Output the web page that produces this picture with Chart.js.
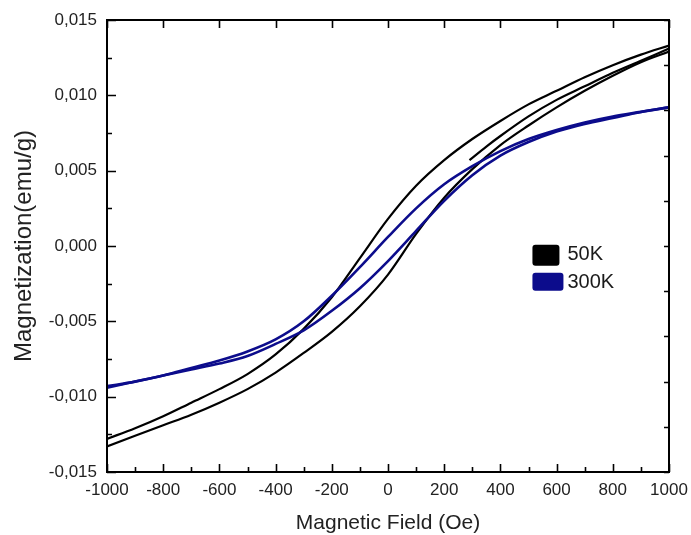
<!DOCTYPE html>
<html>
<head>
<meta charset="utf-8">
<script src="https://cdn.jsdelivr.net/npm/chart.js@4.4.1/dist/chart.umd.min.js"></script>
<style>
  html, body { margin: 0; padding: 0; background: #fff; }
  canvas { display: block; }
</style>
</head>
<body>
<canvas id="hyst" width="691" height="535"></canvas>
<script>
// ─── M(H) hysteresis, 50K and 300K ──────────────────────────────────────────
const FONT = "'Liberation Sans', Arial, sans-serif";

// field grid (Oe) shared by the full branches
const fieldGrid = [-1000,-900,-800,-700,-600,-500,-400,-300,-200,-100,0,100,200,300,400,500,600,700,800,900,1000];

// 50K loop (emu/g)
const m50Upper = [-0.0128,-0.0121,-0.0113,-0.0104,-0.0095,-0.0085,-0.0072,-0.0055,-0.0034,-0.0008,0.0018,0.0040,0.0057,0.0071,0.0083,0.0094,0.0103,0.0112,0.0120,0.0127,0.0133];
const m50Lower = [-0.0133,-0.0126,-0.0119,-0.0112,-0.0104,-0.0095,-0.0084,-0.0071,-0.0057,-0.0040,-0.0019,0.0008,0.0032,0.0051,0.0067,0.0080,0.0092,0.0103,0.0113,0.0122,0.0129];
// initial magnetisation piece of the 50K run
const virginField = [290,350,400,500,600,700,800,900,1000];
const m50Virgin   = [0.0057,0.0066,0.0073,0.0086,0.0097,0.0106,0.0115,0.0123,0.0131];

// 300K loop (emu/g)
const m300Upper = [-0.0093,-0.0090,-0.0086,-0.0081,-0.0076,-0.0070,-0.0062,-0.0050,-0.0033,-0.0014,0.0006,0.0025,0.0041,0.0053,0.0063,0.0071,0.0077,0.0082,0.0086,0.0089,0.0092];
const m300Lower = [-0.0094,-0.0090,-0.0086,-0.0082,-0.0078,-0.0073,-0.0065,-0.0056,-0.0043,-0.0028,-0.0010,0.0010,0.0030,0.0047,0.0060,0.0069,0.0076,0.0081,0.0085,0.0089,0.0092];

const seriesNames = ['50K', '300K'];
const seriesColors = ['#000000', '#0c0c8c'];

const xTicksMajor = 200, xTicksMinor = 100;
const yTicksMajor = 0.005, yTicksMinor = 0.0025;

const pts = (xs, ys) => xs.map((x, i) => ({ x, y: ys[i] }));
const fmtY = v => (Math.abs(v) < 1e-9 ? 0 : v).toFixed(3).replace('.', ',');

function branch(label, data, color, width) {
  return {
    label, data,
    borderColor: color, backgroundColor: color,
    borderWidth: width, pointRadius: 0,
    showLine: true, fill: false,
    cubicInterpolationMode: 'monotone'
  };
}

// frame, inward ticks on all four sides and the in-plot legend
const framePlugin = {
  id: 'frame',
  afterDraw(chart) {
    const { ctx, chartArea: a, scales } = chart;
    const x = scales.x, y = scales.y, y2 = scales.y2;
    ctx.save();
    ctx.strokeStyle = '#000';
    ctx.lineWidth = 2;
    ctx.strokeRect(a.left, a.top, a.right - a.left, a.bottom - a.top);

    ctx.lineWidth = 1.6;
    ctx.beginPath();
    for (let v = x.min; v <= x.max + 1e-6; v += xTicksMinor) {
      const px = Math.round(x.getPixelForValue(v)) + 0.5;
      const major = Math.abs(v % xTicksMajor) < 1e-6;
      ctx.moveTo(px, a.bottom); ctx.lineTo(px, a.bottom - (major ? 8 : 5));
      if (major) { ctx.moveTo(px, a.top); ctx.lineTo(px, a.top + 8); }
    }
    for (let k = 0; k <= 12; k++) {
      const v = y.min + k * yTicksMinor;
      const py = Math.round(y.getPixelForValue(v)) + 0.5;
      const len = k % 2 === 0 ? 9 : 5;
      ctx.moveTo(a.left, py); ctx.lineTo(a.left + len, py);
    }
    for (let v = y2.min; v <= y2.max; v++) {
      const py = Math.round(y2.getPixelForValue(v)) + 0.5;
      ctx.moveTo(a.right, py); ctx.lineTo(a.right - 5, py);
    }
    ctx.stroke();

    // legend
    const lx = a.left + (a.right - a.left) * 0.757;
    const ly = a.top + (a.bottom - a.top) * 0.497;
    ctx.font = '20px ' + FONT;
    ctx.textBaseline = 'middle';
    seriesNames.forEach((name, i) => {
      const top = ly + i * 28;
      ctx.fillStyle = seriesColors[i];
      ctx.beginPath();
      ctx.roundRect(lx, top, i ? 31 : 27, i ? 18 : 21, 3);
      ctx.fill();
      ctx.fillStyle = '#1a1a1a';
      ctx.fillText(name, lx + 35, top + 10);
    });
    ctx.restore();
  }
};

new Chart(document.getElementById('hyst'), {
  type: 'scatter',
  data: {
    datasets: [
      branch('300K', pts(fieldGrid, m300Upper), seriesColors[1], 2.6),
      branch('300K', pts(fieldGrid, m300Lower), seriesColors[1], 2.6),
      branch('50K', pts(fieldGrid, m50Upper), seriesColors[0], 2.2),
      branch('50K', pts(fieldGrid, m50Lower), seriesColors[0], 2.2),
      branch('50K', pts(virginField, m50Virgin), seriesColors[0], 2.2)
    ]
  },
  options: {
    responsive: false,
    animation: false,
    layout: { padding: { left: 4, top: 20, right: 22, bottom: 0 } },
    plugins: { legend: { display: false }, tooltip: { enabled: false } },
    scales: {
      x: {
        type: 'linear', min: -1000, max: 1000,
        afterFit: s => { s.height = 63; s.paddingLeft = 0; s.paddingRight = 0; },
        grid: { display: false, drawTicks: false },
        border: { display: false },
        ticks: { stepSize: xTicksMajor, padding: 8, color: '#222', font: { family: FONT, size: 17 },
                 callback: v => String(v) },
        title: { display: true, text: 'Magnetic Field (Oe)', color: '#222',
                 font: { family: FONT, size: 21, lineHeight: 1 }, padding: { top: 0, bottom: 1 } }
      },
      y: {
        type: 'linear', min: -0.015, max: 0.015,
        afterFit: s => { s.width = 103; s.paddingTop = 0; s.paddingBottom = 0; },
        grid: { display: false, drawTicks: false },
        border: { display: false },
        ticks: { stepSize: yTicksMajor, padding: 10, color: '#222', font: { family: FONT, size: 17 }, callback: fmtY },
        title: { display: true, text: 'Magnetization(emu/g)', color: '#222',
                 font: { family: FONT, size: 24, lineHeight: 1 }, padding: { top: 8, bottom: 0 } }
      },
      y2: { type: 'linear', position: 'right', min: 0, max: 10, display: false }
    }
  },
  plugins: [framePlugin]
});
</script>
</body>
</html>
